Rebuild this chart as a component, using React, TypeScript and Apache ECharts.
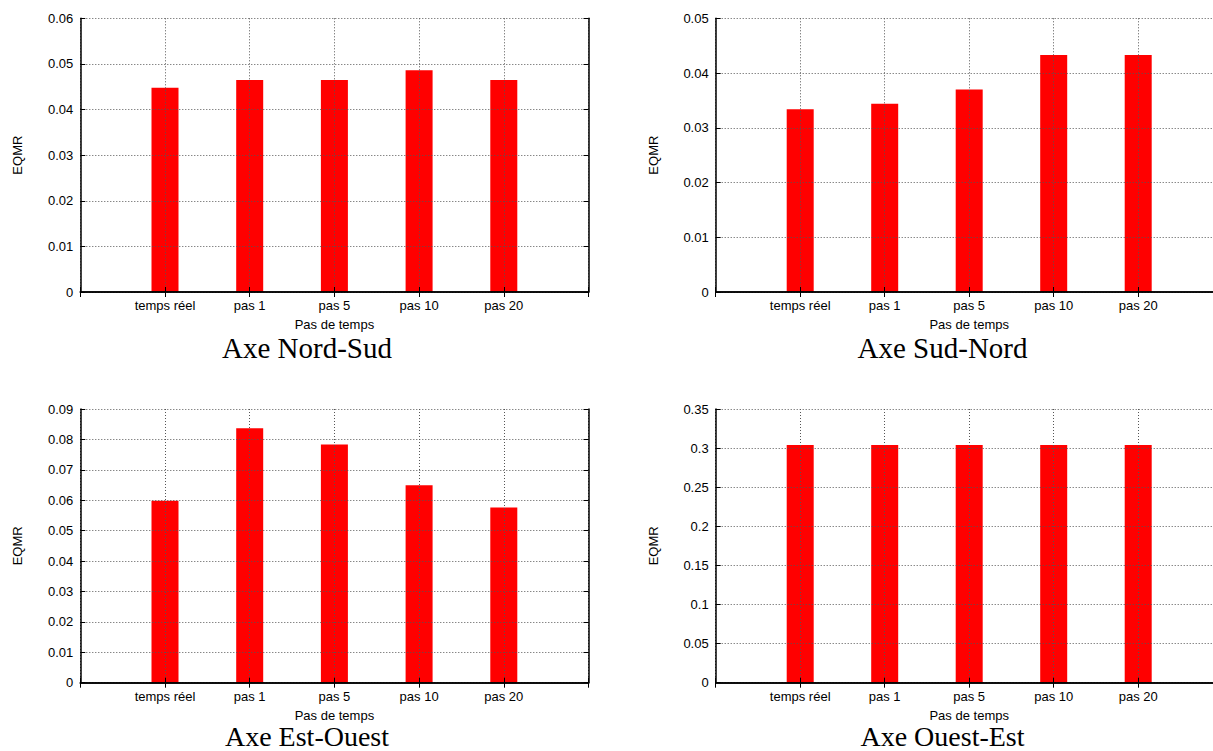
import React, { useEffect, useRef } from "react";
import * as echarts from "echarts";

const categories = ["temps réel", "pas 1", "pas 5", "pas 10", "pas 20"];
const nordSud = [0.0448, 0.0465, 0.0465, 0.0486, 0.0465];
const sudNord = [0.0334, 0.0344, 0.037, 0.0433, 0.0433];
const estOuest = [0.0598, 0.0837, 0.0783, 0.0649, 0.0576];
const ouestEst = [0.304, 0.304, 0.304, 0.304, 0.304];
const yMaxes = [0.06, 0.05, 0.09, 0.35];
const yIntervals = [0.01, 0.01, 0.01, 0.05];
const titles = ["Axe Nord-Sud", "Axe Sud-Nord", "Axe Est-Ouest", "Axe Ouest-Est"];
const seriesValues = [nordSud, sudNord, estOuest, ouestEst];
const yAxisName = "EQMR";
const xAxisName = "Pas de temps";

const SANS = "'Liberation Sans', Arial, Helvetica, sans-serif";
const SERIF = "'Liberation Serif', 'Times New Roman', serif";

const CANVAS_W = 1240;
const grids = [
  { left: 80.3, top: 18.3, width: 508.2, height: 273.7 },
  { left: 715.7, top: 18.3, width: 507, height: 273.7 },
  { left: 80.3, top: 409, width: 508.2, height: 273.7 },
  { left: 715.7, top: 409, width: 507, height: 273.7 },
];
const titlePos = [
  { x: 307, y: 347.5, size: 29 },
  { x: 942.5, y: 347.5, size: 29 },
  { x: 307, y: 736.5, size: 28 },
  { x: 942.5, y: 736.5, size: 28 },
];

export default function App() {
  const ref = useRef<HTMLDivElement>(null);
  useEffect(() => {
    if (!ref.current) return;
    const chart = echarts.init(ref.current, null, { renderer: "svg" });
    const cats = ["", ...categories, ""];
    const frame = { show: true, lineStyle: { color: "#000", width: 1.5 } };
    const tick = { show: true, inside: true, length: 5, lineStyle: { color: "#000", width: 1 } };
    const dotted = { show: true, lineStyle: { color: "#555", width: 1, type: [1, 2] as any } };
    const xAxis: any[] = [];
    const yAxis: any[] = [];
    const series: any[] = [];
    grids.forEach((g, i) => {
      xAxis.push({
        type: "category",
        gridIndex: i,
        data: cats,
        boundaryGap: false,
        position: "bottom",
        axisLine: frame,
        axisTick: tick,
        axisLabel: { show: true, margin: 7, color: "#000", fontFamily: SANS, fontSize: 13, interval: 0 },
        splitLine: { ...dotted, interval: 0 },
        name: xAxisName,
        nameLocation: "middle",
        nameGap: 26,
        nameTextStyle: { color: "#000", fontFamily: SANS, fontSize: 13 },
        z: 3,
      });
      xAxis.push({
        type: "category",
        gridIndex: i,
        data: cats,
        boundaryGap: false,
        position: "top",
        axisLine: frame,
        axisTick: tick,
        axisLabel: { show: false },
        splitLine: { show: false },
        z: 3,
      });
      yAxis.push({
        type: "value",
        gridIndex: i,
        min: 0,
        max: yMaxes[i],
        interval: yIntervals[i],
        position: "left",
        axisLine: frame,
        axisTick: tick,
        axisLabel: {
          margin: 7,
          color: "#000",
          fontFamily: SANS,
          fontSize: 13,
          formatter: (v: number) => String(+v.toFixed(4)),
        },
        splitLine: dotted,
        name: yAxisName,
        nameLocation: "middle",
        nameGap: 56,
        nameTextStyle: { color: "#000", fontFamily: SANS, fontSize: 13 },
        z: 3,
      });
      yAxis.push({
        type: "value",
        gridIndex: i,
        min: 0,
        max: yMaxes[i],
        interval: yIntervals[i],
        position: "right",
        axisLine: frame,
        axisTick: tick,
        axisLabel: { show: false },
        splitLine: { show: false },
        z: 3,
      });
      series.push({
        type: "bar",
        xAxisIndex: i * 2,
        yAxisIndex: i * 2,
        data: [null, ...seriesValues[i], null],
        barWidth: 27,
        itemStyle: { color: "#ff0000" },
        z: 2,
      });
    });
    chart.setOption({
      animation: false,
      backgroundColor: "#fff",
      grid: grids.map((g) => ({ ...g, containLabel: false })),
      xAxis,
      yAxis,
      series,
      graphic: titles.map((t, i) => ({
        type: "text",
        x: titlePos[i].x,
        y: titlePos[i].y,
        style: {
          text: t,
          fill: "#000",
          font: `${titlePos[i].size}px ${SERIF}`,
          textAlign: "center",
          textVerticalAlign: "middle",
        },
      })),
    });
    return () => chart.dispose();
  }, []);
  return (
    <div
      style={{
        position: "absolute",
        left: 0,
        top: 0,
        width: 1213,
        height: 751,
        overflow: "hidden",
        background: "#fff",
      }}
    >
      <div ref={ref} style={{ width: CANVAS_W, height: 751 }} />
    </div>
  );
}
